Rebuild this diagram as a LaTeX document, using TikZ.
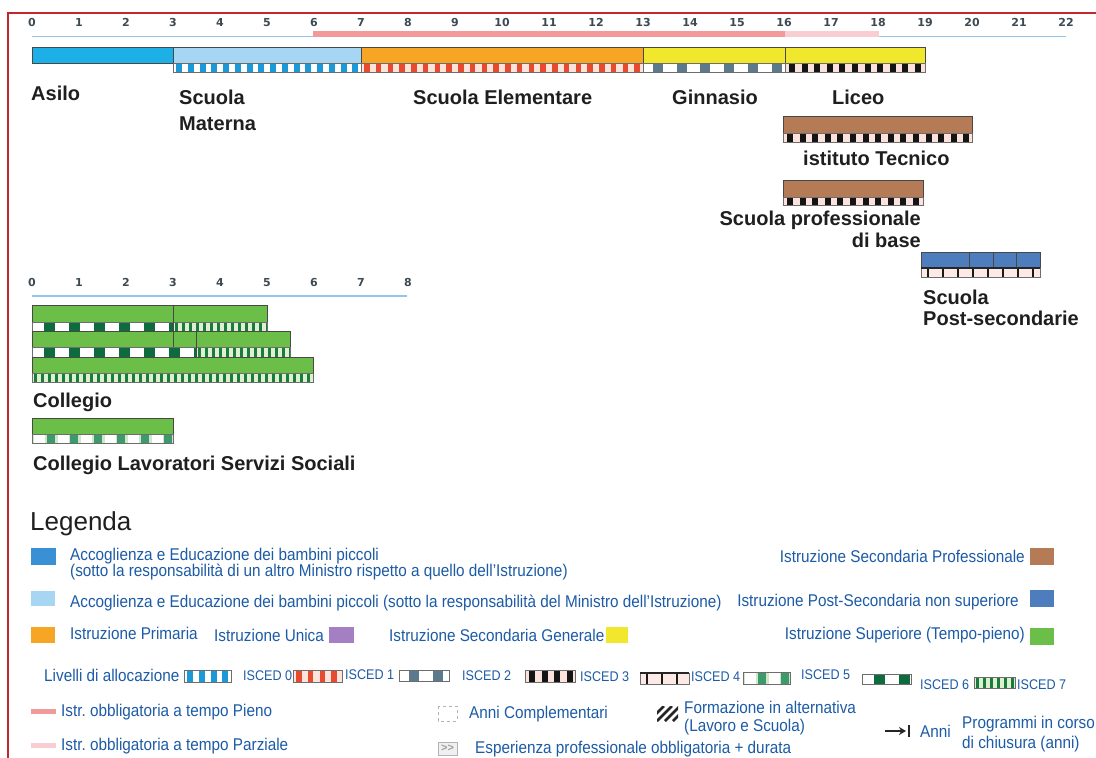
\documentclass[tikz,border=0pt]{standalone}
\usepackage{fontspec}
\setmainfont{Liberation Sans}
\newfontfamily\legfont[FakeStretch=0.9]{Liberation Sans}
\newfontfamily\tickfont{DejaVu Sans}
\usetikzlibrary{arrows.meta}

\definecolor{asilo}{HTML}{1DB0E6}
\definecolor{asiloleg}{HTML}{3A90D4}
\definecolor{materna}{HTML}{A6D6F2}
\definecolor{primaria}{HTML}{F6A524}
\definecolor{general}{HTML}{F1E72C}
\definecolor{prof}{HTML}{B47B56}
\definecolor{postsec}{HTML}{4E7DBE}
\definecolor{tertiary}{HTML}{6BBE47}
\definecolor{unica}{HTML}{A57FC4}
\definecolor{legblue}{HTML}{1C5BA6}
\definecolor{framered}{HTML}{C1272D}
\definecolor{axisblue}{HTML}{93C6EC}
\definecolor{compfull}{HTML}{F29A9A}
\definecolor{comppart}{HTML}{F8CED2}
\definecolor{tickgray}{HTML}{3E4A52}
\definecolor{barframe}{HTML}{484848}
\definecolor{isczero}{HTML}{1C9AD8}
\definecolor{iscone}{HTML}{E84A30}
\definecolor{isconebg}{HTML}{FBE4DC}
\definecolor{isctwo}{HTML}{5C7A8C}
\definecolor{iscthreebg}{HTML}{FBE2DC}
\definecolor{iscfourbg}{HTML}{FDEAE6}
\definecolor{iscfive}{HTML}{3D9A6C}
\definecolor{iscfivebg}{HTML}{CFE6C8}
\definecolor{iscsix}{HTML}{0D6B3E}
\definecolor{iscseven}{HTML}{1B7A3E}
\definecolor{iscsevenbg}{HTML}{DDF0D0}

\tikzset{
  barlab/.style={font=\fontsize{20}{24}\selectfont\bfseries, text=black!88, inner sep=0pt},
  leg/.style={font={\legfont\fontsize{17}{20}\selectfont}, text=legblue, inner sep=0pt},
  isclab/.style={font={\legfont\fontsize{14}{16}\selectfont}, text=legblue, inner sep=0pt},
  ticklab/.style={font={\tickfont\bfseries\fontsize{11}{13}\selectfont}, text=tickgray, inner sep=0pt, anchor=base},
  barline/.style={draw=barframe, line width=0.8pt},
  stripline/.style={draw=barframe!80, line width=0.5pt},
}

\newcommand\myblocks[8]{%
  \begin{scope}
    \clip (#1,#3) rectangle (#2,#4);
    \pgfmathtruncatemacro\mynn{(#2-#1)/#5+1}%
    \foreach \k in {0,...,\mynn}{\fill[#8] ({#1+#6+\k*#5},#3) rectangle ({#1+#6+\k*#5+#7},#4);}
  \end{scope}}
\newcommand\cbar[5]{\fill[#5] (#1,#3) rectangle (#2,#4); \draw[barline] (#1,#3) rectangle (#2,#4);}
\newcommand\iscZero[4]{\fill[white] (#1,#3) rectangle (#2,#4);
  \myblocks{#1}{#2}{#3}{#4}{11.75}{3}{6}{isczero}\draw[stripline] (#1,#3) rectangle (#2,#4);}
\newcommand\iscOne[4]{\fill[isconebg] (#1,#3) rectangle (#2,#4);
  \myblocks{#1}{#2}{#3}{#4}{11.75}{3}{5.5}{iscone}\draw[stripline] (#1,#3) rectangle (#2,#4);}
\newcommand\iscTwo[4]{\fill[white] (#1,#3) rectangle (#2,#4);
  \myblocks{#1}{#2}{#3}{#4}{23.7}{10}{10}{isctwo}\draw[stripline] (#1,#3) rectangle (#2,#4);}
\newcommand\iscThree[4]{\fill[iscthreebg] (#1,#3) rectangle (#2,#4);
  \myblocks{#1}{#2}{#3}{#4}{12.6}{4}{6}{black!92}\draw[stripline] (#1,#3) rectangle (#2,#4);}
\newcommand\iscFour[4]{\fill[iscfourbg] (#1,#3) rectangle (#2,#4);
  \myblocks{#1}{#2}{#3}{#4}{15}{6}{2}{black!90}\draw[stripline] (#1,#3) rectangle (#2,#4);
  \draw[black!85, line width=1.2pt] (#1,#3) -- (#2,#3);}
\newcommand\iscFive[4]{\fill[iscfivebg] (#1,#3) rectangle (#2,#4);
  \myblocks{#1}{#2}{#3}{#4}{23.5}{2}{11}{white}\myblocks{#1}{#2}{#3}{#4}{23.5}{14.5}{8}{iscfive}\draw[stripline] (#1,#3) rectangle (#2,#4);}
\newcommand\iscSix[4]{\fill[white] (#1,#3) rectangle (#2,#4);
  \myblocks{#1}{#2}{#3}{#4}{25}{12}{11}{iscsix}\draw[stripline] (#1,#3) rectangle (#2,#4);}
\newcommand\iscSeven[4]{\fill[iscsevenbg] (#1,#3) rectangle (#2,#4);
  \myblocks{#1}{#2}{#3}{#4}{7}{2}{3}{iscseven}\draw[stripline] (#1,#3) rectangle (#2,#4);}

\begin{document}
\begin{tikzpicture}[x=1pt,y=-1pt]
\useasboundingbox (0,0) rectangle (1096,758);
\fill[white] (0,0) rectangle (1096,758);

% frame
\draw[framered, line width=1.6pt] (8,758) -- (8,13) -- (1096,13);

% ---------- top axis ----------
\coordinate (axA) at (32,36.5);
\coordinate (axB) at (1066,36.5);
\draw[axisblue, line width=1.2pt] (axA) -- (axB);
\coordinate (cfA) at (313,34);
\coordinate (cfB) at (785,34);
\coordinate (cfC) at (879,34);
\draw[compfull, line width=5.5pt] (cfA) -- (cfB);
\draw[comppart, line width=5.5pt] (cfB) -- (cfC);
\foreach \v in {0,...,22} \node[ticklab] (t\v) at ({32+47*\v},26) {\v};

% ---------- top bars ----------
\cbar{32}{173}{47}{63}{asilo}
\cbar{173}{361}{47}{63}{materna}
\iscZero{173}{361}{63}{72}
\cbar{361}{643}{47}{63}{primaria}
\iscOne{361}{643}{63}{72}
\cbar{643}{785}{47}{63}{general}
\iscTwo{643}{785}{63}{72}
\cbar{785}{925}{47}{63}{general}
\iscThree{785}{925}{63}{72}

\node[barlab, anchor=base west] (asilo) at (31,100) {Asilo};
\node[barlab, anchor=base west] (mat1) at (179,104) {Scuola};
\node[barlab, anchor=base west] (mat2) at (179,130) {Materna};
\node[barlab, anchor=base west] (elem) at (413,104) {Scuola Elementare};
\node[barlab, anchor=base west] (ginn) at (672,104) {Ginnasio};
\node[barlab, anchor=base west] (liceo) at (832,104) {Liceo};

% ---------- vocational / post-secondary ----------
\cbar{783}{972}{116}{133}{prof}
\iscThree{783}{972}{133}{142}
\node[barlab, anchor=base west] (tecn) at (803,165) {istituto Tecnico};

\cbar{783}{923}{180}{197}{prof}
\iscThree{783}{923}{197}{205}
\node[barlab, anchor=base east] (prof1) at (921,225) {Scuola professionale};
\node[barlab, anchor=base east] (prof2) at (921,247) {di base};

\cbar{921}{1040}{252}{268}{postsec}
\foreach \d in {969,993,1016} \draw[barline] (\d,252) -- (\d,268);
\iscFour{921}{1040}{268}{277}
\node[barlab, anchor=base west] (ps1) at (923,304) {Scuola};
\node[barlab, anchor=base west] (ps2) at (923,325) {Post-secondarie};

% ---------- lower axis ----------
\coordinate (lxA) at (32,296);
\coordinate (lxB) at (407,296);
\draw[axisblue, line width=1.2pt] (lxA) -- (lxB);
\foreach \v in {0,...,8} \node[ticklab] (u\v) at ({32+47*\v},286) {\v};

% ---------- tertiary bars ----------
\cbar{32}{267}{305}{322}{tertiary}
\iscSix{32}{173}{322}{331}
\iscSeven{173}{267}{322}{331}
\draw[barline] (173,305) -- (173,331);

\cbar{32}{290}{331}{347}{tertiary}
\iscSix{32}{196}{347}{357}
\iscSeven{196}{290}{347}{357}
\draw[barline] (173,331) -- (173,347);
\draw[barline] (196,331) -- (196,357);

\cbar{32}{313}{357}{373}{tertiary}
\iscSeven{32}{313}{373}{382}

\node[barlab, anchor=base west] (coll) at (33,407) {Collegio};

\cbar{32}{173}{418}{434}{tertiary}
\iscFive{32}{173}{434}{443}
\node[barlab, anchor=base west] (colls) at (33,470) {Collegio Lavoratori Servizi Sociali};

% ---------- legend ----------
\node[anchor=base west, inner sep=0pt, font=\fontsize{26}{30}\selectfont, text=black!88] (legenda) at (30,530) {Legenda};

\fill[asiloleg] (31,548) rectangle (56,565);
\node[leg, anchor=base west] (l1a) at (70,560) {Accoglienza e Educazione dei bambini piccoli};
\node[leg, anchor=base west] (l1b) at (70,576) {(sotto la responsabilità di un altro Ministro rispetto a quello dell’Istruzione)};

\fill[materna] (31,591) rectangle (55,606);
\node[leg, anchor=base west] (l2) at (70,607) {Accoglienza e Educazione dei bambini piccoli (sotto la responsabilità del Ministro dell’Istruzione)};

\fill[primaria] (31,627) rectangle (55,643);
\node[leg, anchor=base west] (l3) at (70,639) {Istruzione Primaria};
\node[leg, anchor=base west] (l4) at (214,641) {Istruzione Unica};
\fill[unica] (329,627) rectangle (354,643);
\node[leg, anchor=base west] (l5) at (389,641) {Istruzione Secondaria Generale};
\fill[general] (606,627) rectangle (628,643);

\node[leg, anchor=base east] (r1) at (1025,562) {Istruzione Secondaria Professionale};
\fill[prof] (1030,548) rectangle (1054,565);
\node[leg, anchor=base east] (r2) at (1019,606) {Istruzione Post-Secondaria non superiore};
\fill[postsec] (1030,590) rectangle (1054,607);
\node[leg, anchor=base east] (r3) at (1025,639) {Istruzione Superiore (Tempo-pieno)};
\fill[tertiary] (1030,628) rectangle (1054,645);

% ISCED levels
\node[leg, anchor=base west] (liv) at (44,681) {Livelli di allocazione};
\iscZero{184}{231}{670}{682}
\node[isclab, anchor=base west] (i0) at (243,680) {ISCED 0};
\iscOne{293}{342}{670}{682}
\node[isclab, anchor=base west] (i1) at (345,679) {ISCED 1};
\iscTwo{399}{449}{670}{681}
\node[isclab, anchor=base west] (i2) at (462,680) {ISCED 2};
\iscThree{525}{575}{670}{682}
\node[isclab, anchor=base west] (i3) at (580,681) {ISCED 3};
\iscFour{640}{689}{673}{684}
\node[isclab, anchor=base west] (i4) at (691,681) {ISCED 4};
\iscFive{743}{790}{672}{684}
\node[isclab, anchor=base west] (i5) at (801,679) {ISCED 5};
\iscSix{862}{911}{674}{684}
\node[isclab, anchor=base west] (i6) at (920,689) {ISCED 6};
\iscSeven{974}{1015}{677}{688}
\node[isclab, anchor=base west] (i7) at (1017,689) {ISCED 7};

% compulsory
\coordinate (pfA) at (31,711);
\coordinate (pfB) at (56,711);
\draw[compfull, line width=5pt] (pfA) -- (pfB);
\node[leg, anchor=base west] (pieno) at (61,716) {Istr.\ obbligatoria a tempo Pieno};
\coordinate (ppA) at (31,745);
\coordinate (ppB) at (56,745);
\draw[comppart, line width=5pt] (ppA) -- (ppB);
\node[leg, anchor=base west] (parz) at (61,750) {Istr.\ obbligatoria a tempo Parziale};

% complementary years
\draw[gray!60, dashed, line width=0.8pt] (438,706) rectangle (457,721);
\node[leg, anchor=base west] (compl) at (469,718) {Anni Complementari};
\fill[gray!12] (438,742) rectangle (457,755);
\draw[gray!60, line width=0.8pt] (438,742) rectangle (457,755);
\node[inner sep=0pt, font={\fontsize{11}{12}\selectfont\bfseries}, text=gray!75] (espsym) at (447.5,748.5) {>{}>};
\node[leg, anchor=base west] (esp) at (475,753) {Esperienza professionale obbligatoria + durata};

% alternance
\begin{scope}
  \clip (657,706) rectangle (678,721);
  \fill[white] (657,706) rectangle (678,721);
  \foreach \d in {-16,-8,...,24} \draw[black!85, line width=2.6pt] ({657+\d},721) -- ++(15,-15);
\end{scope}
\node[leg, anchor=base west] (form1) at (684,713) {Formazione in alternativa};
\node[leg, anchor=base west] (form2) at (684,731) {(Lavoro e Scuola)};

% years arrow
\coordinate (arA) at (885,731);
\coordinate (arB) at (906,731);
\draw[black!85, line width=2pt, -{Stealth[length=7pt,width=8pt]}] (arA) -- (arB);
\coordinate (brA) at (909,725);
\coordinate (brB) at (909,737);
\draw[black!85, line width=2.8pt] (brA) -- (brB);
\node[leg, anchor=base west] (anni) at (920,737) {Anni};
\node[leg, anchor=base west] (prog1) at (962,728) {Programmi in corso};
\node[leg, anchor=base west] (prog2) at (962,748) {di chiusura (anni)};
\end{tikzpicture}
\end{document}
